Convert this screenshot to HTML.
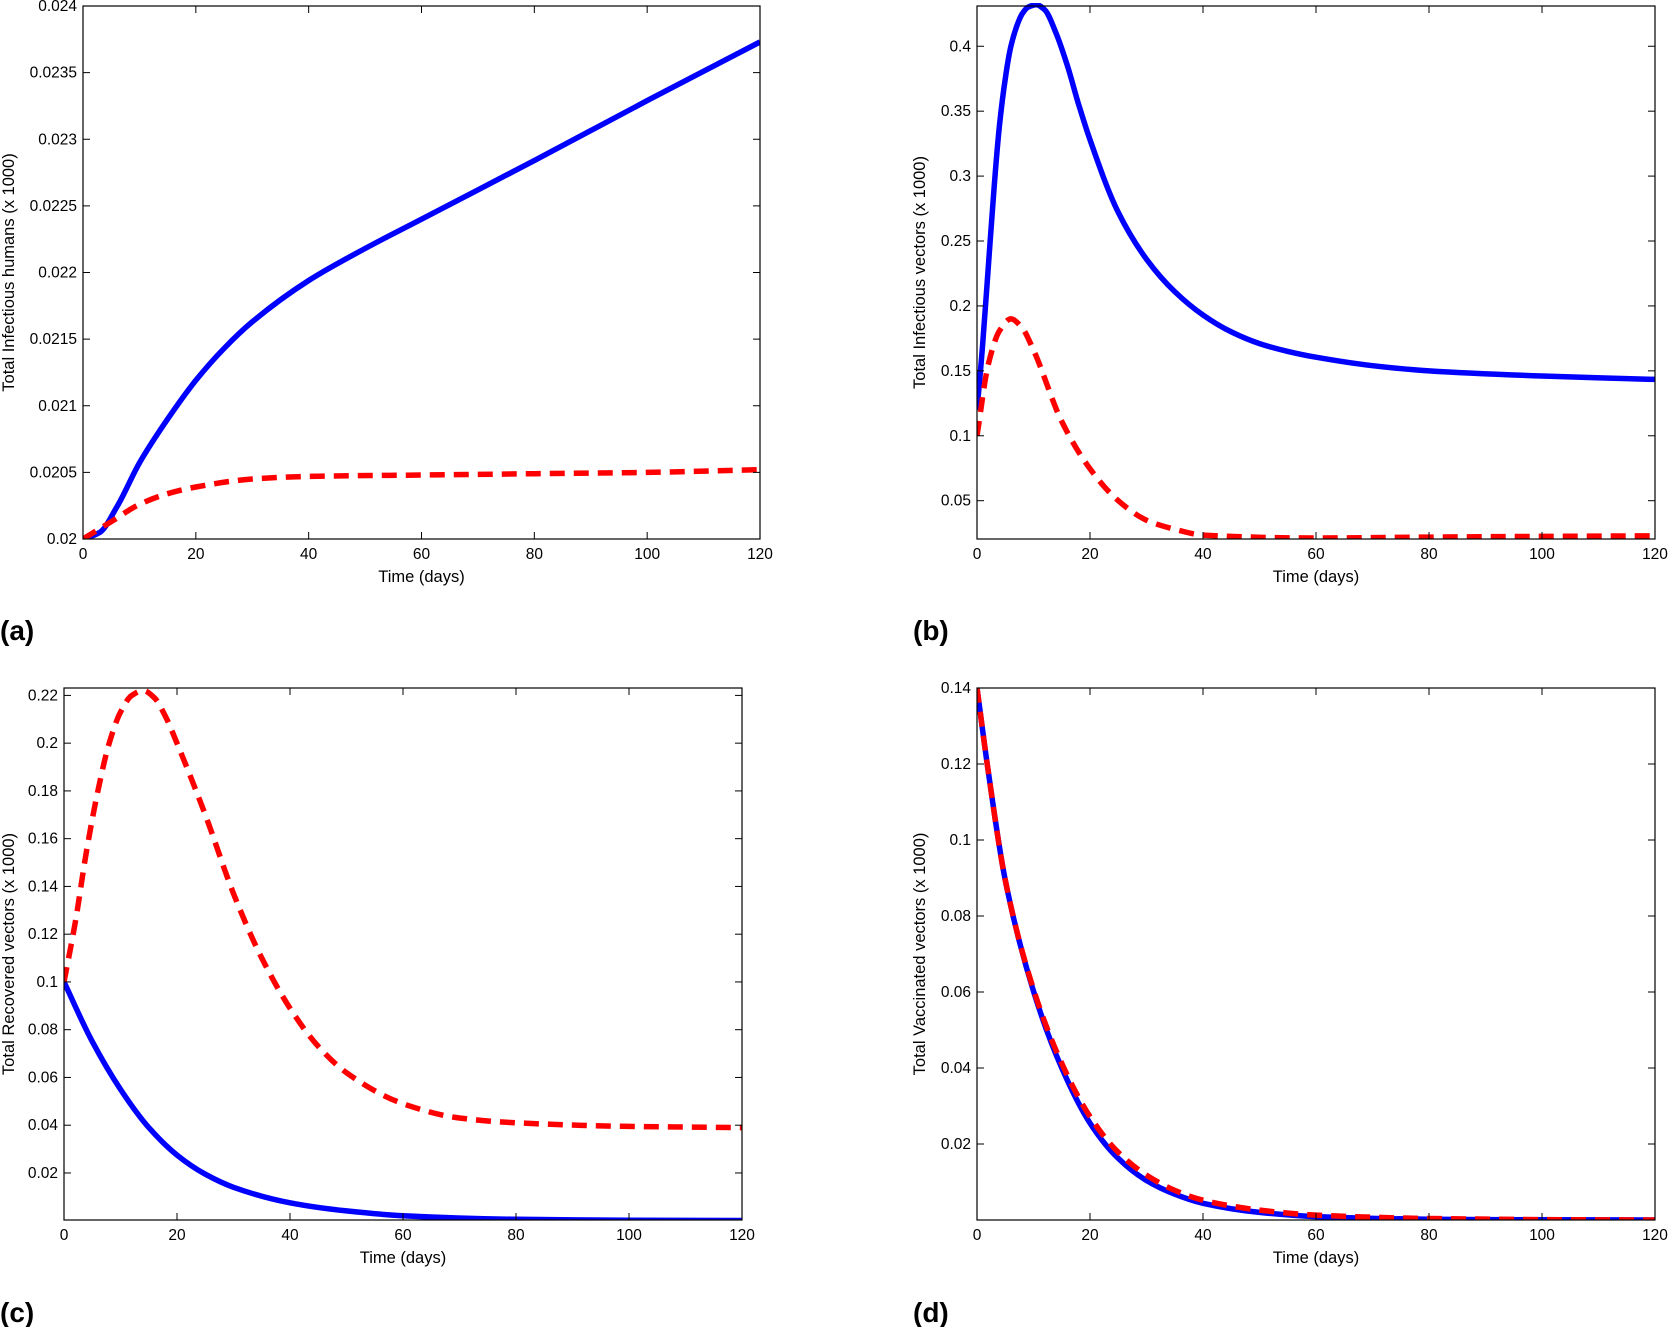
<!DOCTYPE html>
<html><head><meta charset="utf-8"><style>
html,body{margin:0;padding:0;background:#fff;}
svg{display:block;font-family:"Liberation Sans",sans-serif;}
</style></head><body>
<svg id="fig" width="1669" height="1327" viewBox="0 0 1669 1327" xmlns="http://www.w3.org/2000/svg"></svg>
<script>
const xTicks=[0,20,40,60,80,100,120];
// panel a
const aTime=[0,3,6,10,15,20,25,30,40,50,60,70,80,100,120];
const aBlue=[0.02,0.02005,0.02024,0.02057,0.0209,0.02119,0.02143,0.02163,0.02194,0.02218,0.0224,0.02262,0.02284,0.02329,0.02373];
const aRedTime=[0,5,10,15,20,30,40,60,80,100,120];
const aRed=[0.02,0.02013,0.02026,0.02034,0.02039,0.02045,0.02047,0.02048,0.02049,0.0205,0.02052];
const aYTicks=[0.02,0.0205,0.021,0.0215,0.022,0.0225,0.023,0.0235,0.024];
const aYLabels=["0.02","0.0205","0.021","0.0215","0.022","0.0225","0.023","0.0235","0.024"];
// panel b
const bTime=[0,1,2,3,4,5,6,7,8,9,10.5,12,14,16,18,20,25,30,35,40,45,50,55,60,70,80,100,120];
const bBlue=[0.12,0.17,0.23,0.29,0.34,0.375,0.4,0.415,0.425,0.43,0.432,0.428,0.41,0.385,0.355,0.328,0.272,0.236,0.211,0.193,0.18,0.171,0.165,0.1605,0.154,0.15,0.146,0.1434];
const bRedTime=[0,2,4,6,8,10,15,20,25,30,35,40,60,80,100,120];
const bRed=[0.1,0.155,0.181,0.19,0.183,0.166,0.111,0.0746,0.05,0.035,0.028,0.0235,0.0213,0.022,0.0225,0.023];
const bYTicks=[0.05,0.1,0.15,0.2,0.25,0.3,0.35,0.4];
const bYLabels=["0.05","0.1","0.15","0.2","0.25","0.3","0.35","0.4"];
// panel c
const cTime=[0,5,10,15,20,25,30,40,50,60,80,100,120];
const cBlue=[0.1,0.075,0.055,0.039,0.0275,0.0195,0.014,0.0075,0.0041,0.0021,0.0006,0.0002,0.0001];
const cRedTime=[0,2,4,6,8,10,12,14,16,18,20,25,30,35,40,45,50,60,70,80,100,120];
const cRed=[0.1,0.125,0.155,0.18,0.2,0.213,0.22,0.222,0.219,0.211,0.2,0.17,0.137,0.11,0.089,0.073,0.062,0.049,0.043,0.041,0.0395,0.039];
const cYTicks=[0.02,0.04,0.06,0.08,0.1,0.12,0.14,0.16,0.18,0.2,0.22];
const cYLabels=["0.02","0.04","0.06","0.08","0.1","0.12","0.14","0.16","0.18","0.2","0.22"];
// panel d
const dTime=[0,2,5,10,15,20,25,30,35,40,50,60,80,100,120];
const dBlue=[0.14,0.118,0.0894,0.0602,0.04,0.0255,0.0162,0.0104,0.0068,0.0044,0.002,0.0009,0.0002,0.00005,0];
const dRed=[0.14,0.118,0.0894,0.0607,0.0412,0.0272,0.0178,0.0118,0.0078,0.0052,0.0026,0.0013,0.0004,0.0001,0];
const dYTicks=[0.02,0.04,0.06,0.08,0.1,0.12,0.14];
const dYLabels=["0.02","0.04","0.06","0.08","0.1","0.12","0.14"];

const NS="http://www.w3.org/2000/svg";
const svg=document.getElementById('fig');
function mk(tag,attrs,parent){const e=document.createElementNS(NS,tag);for(const k in attrs)e.setAttribute(k,attrs[k]);(parent||svg).appendChild(e);return e;}
function path(xs,ys,sx,sy){
  const X=xs.map(sx),Y=ys.map(sy),n=X.length;
  const d=[],m=[];
  for(let i=0;i<n-1;i++)d.push((Y[i+1]-Y[i])/(X[i+1]-X[i]));
  m[0]=d[0];m[n-1]=d[n-2];
  for(let i=1;i<n-1;i++){
    if(d[i-1]*d[i]<=0)m[i]=0;
    else{const h0=X[i]-X[i-1],h1=X[i+1]-X[i];const w1=2*h1+h0,w2=h1+2*h0;m[i]=(w1+w2)/(w1/d[i-1]+w2/d[i]);}
  }
  let s="M"+X[0].toFixed(1)+","+Y[0].toFixed(1);
  for(let i=0;i<n-1;i++){
    const h=(X[i+1]-X[i])/3;
    s+=" C"+(X[i]+h).toFixed(1)+","+(Y[i]+m[i]*h).toFixed(1)+" "+(X[i+1]-h).toFixed(1)+","+(Y[i+1]-m[i+1]*h).toFixed(1)+" "+X[i+1].toFixed(1)+","+Y[i+1].toFixed(1);
  }
  return s;
}
function panel(id,L,R,T,B,ymin,ymax,yt,yl,ytitle,label,lx,ly,series){
  const g=mk('g',{});
  
  
  const sx=x=>L+(x-0)/(120-0)*(R-L);
  const sy=y=>B-(y-ymin)/(ymax-ymin)*(B-T);
  const clip=mk('clipPath',{id:'clip'+id},g);
  mk('rect',{x:L,y:T-3,width:R-L,height:B-T+3},clip);
  series.forEach(s=>{
    const p=mk('path',{d:path(s.x,s.y,sx,sy),fill:'none',stroke:s.c,'stroke-width':5.5,'stroke-dasharray':s.dash||'none','clip-path':'url(#clip'+id+')'},g);
    
    
  });
  const box=mk('rect',{x:L,y:T,width:R-L,height:B-T,fill:'none',stroke:'#000','stroke-width':1.2},g);
  
  
  xTicks.forEach(t=>{
    const x=sx(t);
    mk('line',{x1:x,x2:x,y1:B,y2:B-7,stroke:'#000','stroke-width':1},g);
    mk('line',{x1:x,x2:x,y1:T,y2:T+7,stroke:'#000','stroke-width':1},g);
    const tx=mk('text',{x:x,y:B+20,'font-size':15.5,'text-anchor':'middle'},g);
    tx.textContent=String(t);
    
    
  });
  yt.forEach((t,i)=>{
    const y=sy(t);
    mk('line',{x1:L,x2:L+7,y1:y,y2:y,stroke:'#000','stroke-width':1},g);
    mk('line',{x1:R,x2:R-7,y1:y,y2:y,stroke:'#000','stroke-width':1},g);
    const tx=mk('text',{x:L-6,y:y+5,'font-size':15.5,'text-anchor':'end'},g);
    tx.textContent=yl[i];
    
    
  });
  const xt=mk('text',{x:(L+R)/2,y:B+43,'font-size':16.5,'text-anchor':'middle'},g);
  xt.textContent='Time (days)';
  
  
  const cy=(T+B)/2;
  const ytx=mk('text',{x:0,y:0,'font-size':16.5,'text-anchor':'middle',transform:'translate('+ytitle.x+','+cy+') rotate(-90)'},g);
  ytx.textContent=ytitle.t;
  
  
  const pl=mk('text',{x:lx,y:ly,'font-size':28,'font-weight':'bold'},g);
  pl.textContent=label;
  
  
}
panel('a',83,760,6,539,0.02,0.024,aYTicks,aYLabels,{t:'Total Infectious humans (x 1000)',x:14},'(a)',0,640,
 [{x:aTime,y:aBlue,c:'#0000ff',name:'series-blue-solid'},{x:aRedTime,y:aRed,c:'#ff0000',dash:'15 9',name:'series-red-dashed'}]);
panel('b',977,1655,6,539,0.0205,0.431,bYTicks,bYLabels,{t:'Total Infectious vectors (x 1000)',x:925},'(b)',913,640,
 [{x:bTime,y:bBlue,c:'#0000ff',name:'series-blue-solid'},{x:bRedTime,y:bRed,c:'#ff0000',dash:'15 9',name:'series-red-dashed'}]);
panel('c',64,742,688,1220,0.0003,0.2231,cYTicks,cYLabels,{t:'Total Recovered vectors (x 1000)',x:14},'(c)',0,1322,
 [{x:cTime,y:cBlue,c:'#0000ff',name:'series-blue-solid'},{x:cRedTime,y:cRed,c:'#ff0000',dash:'15 9',name:'series-red-dashed'}]);
panel('d',977,1655,688,1220,0,0.14,dYTicks,dYLabels,{t:'Total Vaccinated vectors (x 1000)',x:925},'(d)',913,1322,
 [{x:dTime,y:dBlue,c:'#0000ff',name:'series-blue-solid'},{x:dTime,y:dRed,c:'#ff0000',dash:'15 9',name:'series-red-dashed'}]);
</script>
</body></html>
